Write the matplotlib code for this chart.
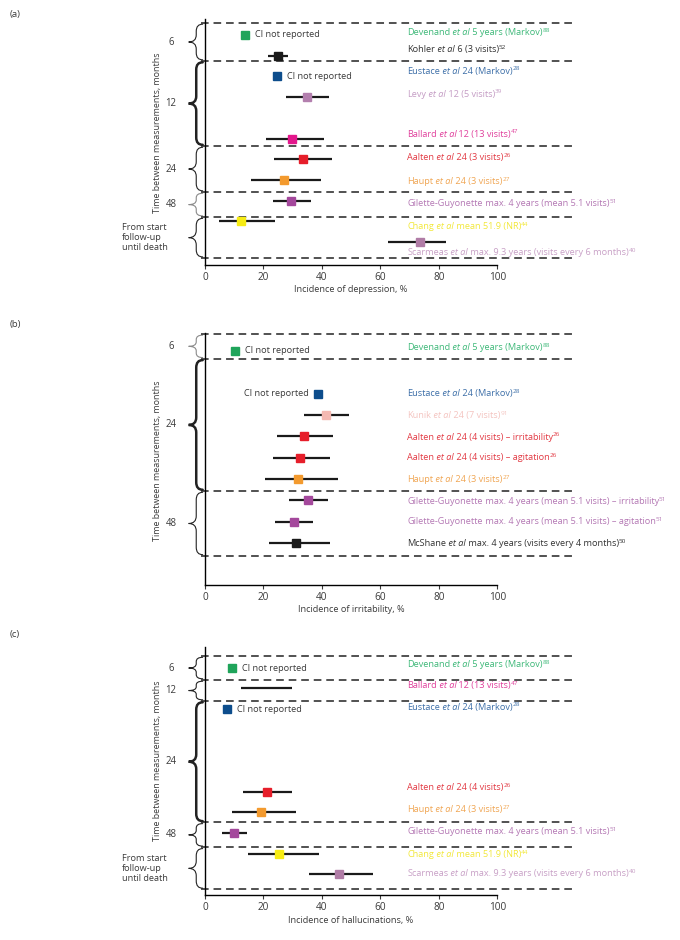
import numpy as np
import matplotlib.pyplot as plt
from matplotlib.path import Path
from matplotlib.patches import PathPatch

plt.rcParams['font.family'] = ['Open Sans', 'DejaVu Sans']

nan = np.nan

# ---- data: panel (a) depression
a_names = ["Devenand", "Kohler", "Eustace", "Levy", "Ballard", "Aalten", "Haupt",
           "Gilette-Guyonette", "Chang", "Scarmeas"]
a_etal = [True, True, True, True, True, True, True, False, True, True]
a_details = ["5 years (Markov)", "6 (3 visits)", "24 (Markov)", "12 (5 visits)",
             "12 (13 visits)", "24 (3 visits)", "24 (3 visits)",
             "max. 4 years (mean 5.1 visits)", "mean 51.9 (NR)",
             "max. 9.3 years (visits every 6 months)"]
a_refs = ["88", "52", "28", "39", "47", "26", "27", "51", "44", "40"]
a_est = [13.7, 25.0, 24.5, 35.0, 29.7, 33.5, 27.0, 29.4, 12.4, 73.6]
a_lo = [nan, 21.6, nan, 27.7, 20.8, 23.6, 15.7, 23.2, 4.8, 62.7]
a_hi = [nan, 28.5, nan, 42.4, 40.8, 43.4, 39.6, 36.2, 24.0, 82.5]
a_groups = ["6", "12", "24", "48", "From start\nfollow-up\nuntil death"]

# ---- data: panel (b) irritability
b_names = ["Devenand", "Eustace", "Kunik", "Aalten", "Aalten", "Haupt",
           "Gilette-Guyonette", "Gilette-Guyonette", "McShane"]
b_etal = [True, True, True, True, True, True, False, False, True]
b_details = ["5 years (Markov)", "24 (Markov)", "24 (7 visits)",
             "24 (4 visits) \u2013 irritability", "24 (4 visits) \u2013 agitation",
             "24 (3 visits)", "max. 4 years (mean 5.1 visits) \u2013 irritability",
             "max. 4 years (mean 5.1 visits) \u2013 agitation",
             "max. 4 years (visits every 4 months)"]
b_refs = ["88", "28", "91", "26", "26", "27", "51", "51", "50"]
b_est = [10.3, 38.6, 41.4, 33.8, 32.5, 31.7, 35.1, 30.5, 31.3]
b_lo = [nan, nan, 34.0, 24.5, 23.4, 20.6, 28.6, 24.1, 21.8]
b_hi = [nan, nan, 49.3, 43.7, 42.8, 45.5, 42.2, 37.1, 42.8]
b_groups = ["6", "24", "48"]

# ---- data: panel (c) hallucinations
c_names = ["Devenand", "Ballard", "Eustace", "Aalten", "Haupt",
           "Gilette-Guyonette", "Chang", "Scarmeas"]
c_etal = [True, True, True, True, True, False, True, True]
c_details = ["5 years (Markov)", "12 (13 visits)", "24 (Markov)", "24 (4 visits)",
             "24 (3 visits)", "max. 4 years (mean 5.1 visits)", "mean 51.9 (NR)",
             "max. 9.3 years (visits every 6 months)"]
c_refs = ["88", "47", "28", "26", "27", "51", "44", "40"]
c_est = [9.3, nan, 7.4, 21.1, 19.2, 10.0, 25.4, 45.9]
c_lo = [nan, 12.2, nan, 13.1, 9.4, 5.8, 14.6, 35.6]
c_hi = [nan, 29.8, nan, 29.8, 31.1, 14.4, 39.0, 57.5]
c_groups = ["6", "12", "24", "48", "From start\nfollow-up\nuntil death"]

# marker colour, label colour
colors = {
    "Devenand": ("#1fa45a", "#3db878"),
    "Kohler": ("#1a1a1a", "#333333"),
    "Eustace": ("#0d4d8c", "#3d6fa8"),
    "Levy": ("#b37fae", "#c49cc4"),
    "Ballard": ("#e3178c", "#e0409c"),
    "Aalten": ("#e61e2a", "#e23a44"),
    "Haupt": ("#f39a2e", "#f0a654"),
    "Gilette-Guyonette": ("#a4489c", "#b478b4"),
    "Chang": ("#f7ec14", "#f2e83a"),
    "Scarmeas": ("#b07ca6", "#c8a0c6"),
    "Kunik": ("#f4b9b2", "#f4c4c0"),
    "McShane": ("#1a1a1a", "#333333"),
}

TXT = "#3a3a3a"
FS = 6.6      # general text
FS_LAB = 6.6  # study labels


def brace(ax, y0, y1, thick=False, color="#222222"):
    xe, xb, xt = -0.8, -3.0, -5.6
    r = min(0.35, (y1 - y0) / 5)
    ym = (y0 + y1) / 2
    verts = [(xe, y0), (xb, y0), (xb, y0 + r),
             (xb, ym - r), (xb, ym), (xt, ym),
             (xb, ym), (xb, ym + r),
             (xb, y1 - r), (xb, y1), (xe, y1)]
    codes = [Path.MOVETO, Path.CURVE3, Path.CURVE3,
             Path.LINETO, Path.CURVE3, Path.CURVE3,
             Path.CURVE3, Path.CURVE3,
             Path.LINETO, Path.CURVE3, Path.CURVE3]
    ax.add_patch(PathPatch(Path(verts, codes), fill=False, lw=1.8 if thick else 0.8,
                           edgecolor=color, clip_on=False, capstyle='round'))


def label(ax, x, y, name, etal, detail, ref, color):
    t = ax.text(x, y, name, color=color, fontsize=FS_LAB, va='center', ha='left')
    if etal:
        t = ax.annotate(" et al", xy=(1, 0), xycoords=t, va='bottom', ha='left',
                        color=color, fontsize=FS_LAB, style='italic')
    t = ax.annotate(" " + detail, xy=(1, 0), xycoords=t, va='bottom', ha='left',
                    color=color, fontsize=FS_LAB)
    ax.annotate(ref, xy=(1, 0.45), xycoords=t, va='bottom', ha='left',
                color=color, fontsize=4.6)


def panel(ax, tag, ylab, names, etal, details, refs, est, lo, hi,
          rows, label_rows, dividers, groups, thick, gray, ylim, ylab_y, ci_note):
    ax.set_xlim(0, 154)
    ax.set_ylim(*ylim)
    for s in ["top", "right"]:
        ax.spines[s].set_visible(False)
    ax.spines["bottom"].set_bounds(0, 100)
    ax.spines["left"].set_linewidth(1.0)
    ax.spines["bottom"].set_linewidth(1.0)
    ax.set_xticks([0, 20, 40, 60, 80, 100])
    ax.tick_params(axis='x', length=3, width=0.8, labelsize=7.2, colors=TXT, pad=2)
    ax.set_yticks([])

    for d in dividers:
        ax.plot([-1.5, 126], [d, d], color="#222222", lw=1.1,
                ls=(0, (5, 3.2)), clip_on=False)

    for i, n in enumerate(names):
        mc, tc = colors[n]
        if not np.isnan(lo[i]):
            ax.plot([lo[i], hi[i]], [rows[i], rows[i]], color="#1a1a1a", lw=1.6,
                    solid_capstyle='butt', zorder=2)
        if not np.isnan(est[i]):
            ax.plot(est[i], rows[i], marker='s', ms=5.2, color=mc, mec=mc, zorder=3)
        label(ax, 69.2, label_rows[i], n, etal[i], details[i], refs[i], tc)

    for (i, side) in ci_note:
        if side == "right":
            ax.text(est[i] + 3.5, rows[i], "CI not reported", fontsize=FS,
                    color=TXT, va='center', ha='left')
        else:
            ax.text(est[i] - 3.0, rows[i], "CI not reported", fontsize=FS,
                    color=TXT, va='center', ha='right')

    for k, g in enumerate(groups):
        y0, y1 = dividers[k] + 0.06, dividers[k + 1] - 0.06
        col = "#8a8a8a" if k in gray else "#222222"
        brace(ax, y0, y1, thick=(k in thick), color=col)
        ym = (y0 + y1) / 2
        if "\n" in g:
            ax.text(-28.4, ym, g, fontsize=FS, color=TXT, va='center', ha='left',
                    linespacing=1.15)
        else:
            ax.text(-11.6, ym, g, fontsize=6.9, color=TXT, va='center', ha='center')

    ax.text(-16.2, ylab_y, "Time between measurements, months", rotation=90,
            fontsize=6.4, color=TXT, va='center', ha='center')
    ax.annotate(ylab, xy=(50, 0), xycoords=('data', 'axes fraction'),
                xytext=(0, -18), textcoords='offset points', ha='center',
                va='center', fontsize=FS, color=TXT)
    ax.figure.text(10 / 680, ax.get_position().y1 + tag[1], tag[0], fontsize=6.8,
                   color=TXT, va='center', ha='left')


fig = plt.figure(figsize=(6.8, 9.4), dpi=100)
W, H = 680.0, 940.0
left = 205 / W
width = 450 / W

ax_a = fig.add_axes([left, 1 - 265 / H, width, 246 / H])
ax_b = fig.add_axes([left, 1 - 585 / H, width, 252 / H])
ax_c = fig.add_axes([left, 1 - 895 / H, width, 248 / H])

panel(ax_a, ("(a)", 4 / H), "Incidence of depression, %",
      a_names, a_etal, a_details, a_refs, a_est, a_lo, a_hi,
      rows=[0, 1, 2, 3, 5, 6, 7, 8, 9, 10],
      label_rows=[-0.14, 0.72, 1.74, 2.85, 4.78, 5.9, 7.05, 8.12, 9.23, 10.48],
      dividers=[-0.58, 1.26, 5.36, 7.58, 8.79, 10.77],
      groups=a_groups, thick=[1], gray=[3], ylim=(11.1, -0.77), ylab_y=4.7,
      ci_note=[(0, "right"), (2, "right")])

panel(ax_b, ("(b)", 8 / H), "Incidence of irritability, %",
      b_names, b_etal, b_details, b_refs, b_est, b_lo, b_hi,
      rows=[0, 2, 3, 4, 5, 6, 7, 8, 9],
      label_rows=[-0.14, 2.01, 3.04, 4.03, 5.01, 6.0, 7.03, 8.0, 9.0],
      dividers=[-0.8, 0.37, 6.56, 9.6],
      groups=b_groups, thick=[1], gray=[0], ylim=(10.96, -0.84), ylab_y=5.15,
      ci_note=[(0, "right"), (1, "left")])

panel(ax_c, ("(c)", 12 / H), "Incidence of hallucinations, %",
      c_names, c_etal, c_details, c_refs, c_est, c_lo, c_hi,
      rows=[0, 0.95, 2, 6, 7, 8, 9, 10],
      label_rows=[-0.19, 0.83, 1.89, 5.78, 6.84, 7.91, 9.03, 9.95],
      dividers=[-0.58, 0.58, 1.6, 7.48, 8.69, 10.73],
      groups=c_groups, thick=[2], gray=[], ylim=(11.0, -1.02), ylab_y=4.5,
      ci_note=[(0, "right"), (2, "right")])

fig.savefig("out.png", dpi=100)
